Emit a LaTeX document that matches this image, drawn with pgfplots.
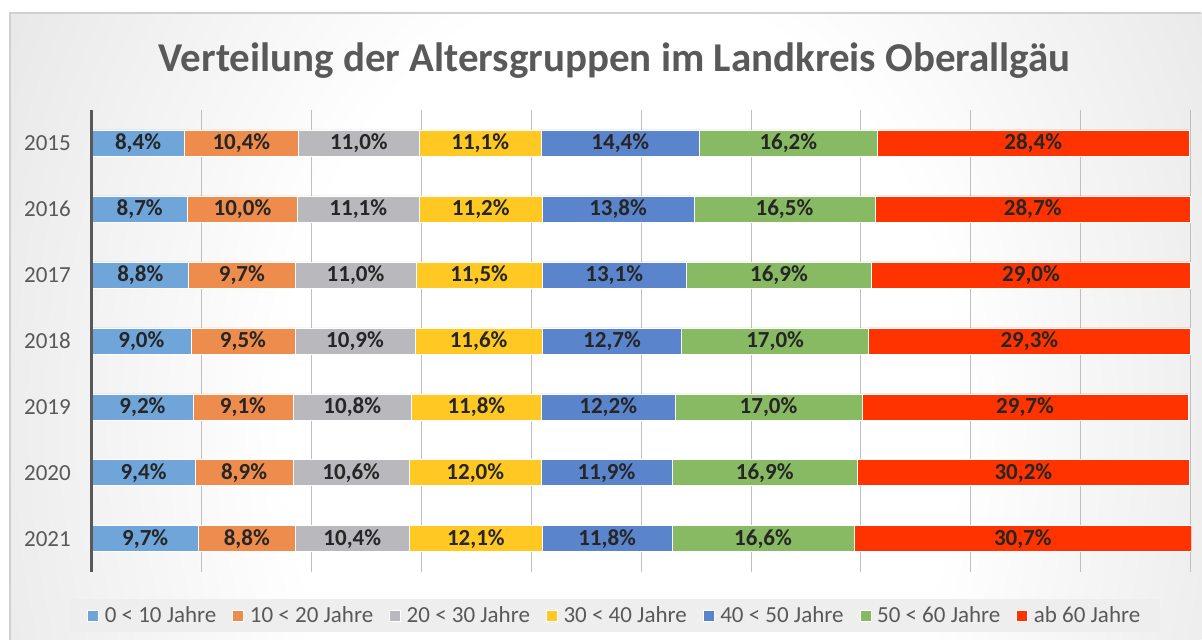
\documentclass[border=0pt]{standalone}
\usepackage{pgfplots}
\pgfplotsset{compat=1.18}
\usepackage{pgfplotstable}
\usepackage{fontspec}
\setmainfont{Carlito}
\definecolor{c1}{HTML}{6FA5D9}
\definecolor{c2}{HTML}{EE8C4D}
\definecolor{c3}{HTML}{B9B9BD}
\definecolor{c4}{HTML}{FFC822}
\definecolor{c5}{HTML}{5A84CC}
\definecolor{c6}{HTML}{87BA62}
\definecolor{c7}{HTML}{FF3300}
\definecolor{txt}{HTML}{595959}
\definecolor{lbl}{HTML}{262626}
\definecolor{gridc}{HTML}{BFBFBF}
\definecolor{frame}{HTML}{D0D0D0}
\definecolor{legfill}{HTML}{EEEEEE}
\pgfdeclareradialshading{bgshade}{\pgfpoint{0bp}{0bp}}{color(0bp)=(white); color(12bp)=(white); color(24bp)=(gray!17); color(44bp)=(gray!39); color(50bp)=(gray!46)}
\pgfplotstableread{
idx a b c d e f g
0 8.4 10.4 11.0 11.1 14.4 16.2 28.4
1 8.7 10.0 11.1 11.2 13.8 16.5 28.7
2 8.8 9.7 11.0 11.5 13.1 16.9 29.0
3 9.0 9.5 10.9 11.6 12.7 17.0 29.3
4 9.2 9.1 10.8 11.8 12.2 17.0 29.7
5 9.4 8.9 10.6 12.0 11.9 16.9 30.2
6 9.7 8.8 10.4 12.1 11.8 16.6 30.7
}\data
\begin{document}
\begin{tikzpicture}
\path (0bp,0bp) rectangle (1202bp,-640bp);
\begin{scope}
\clip (10bp,-13bp) rectangle (1202bp,-640bp);
\shade[shading=bgshade] (-80bp,480bp) rectangle (1320bp,-1320bp);
\end{scope}
\draw[frame, line width=1.2bp] (10bp,-640bp) -- (10bp,-13bp) -- (1202bp,-13bp);
\begin{axis}[
  at={(92bp,-572bp)}, anchor=south west,
  scale only axis, width=1100bp, height=462bp,
  xbar stacked, bar width=26bp,
  xmin=0, xmax=100.1, ymin=-0.5, ymax=6.5, y dir=reverse,
  xtick={0,10,...,100}, xticklabels={},
  xmajorgrids, grid style={gridc, line width=0.9bp},
  major tick length=0pt,
  ytick={0,...,6}, yticklabels={\mbox{2015},\mbox{2016},\mbox{2017},\mbox{2018},\mbox{2019},\mbox{2020},\mbox{2021}},
  yticklabel style={font=\fontsize{23bp}{27bp}\selectfont, text=txt, inner sep=0pt, xshift=-21bp},
  axis line style={draw=none},
  title={Verteilung der Altersgruppen im Landkreis Oberallgäu},
  title style={at={(axis description cs:0.4755,1.095)}, anchor=center, font=\bfseries\fontsize{41bp}{49bp}\selectfont, text=txt},
  point meta=explicit,
  nodes near coords={\pgfmathprintnumber[fixed,fixed zerofill,precision=1,use comma,assume math mode=true]{\pgfplotspointmeta}\%},
  every node near coord/.append style={anchor=center, font=\bfseries\fontsize{23bp}{27bp}\selectfont, text=lbl},
  legend image code/.code={\fill[#1] (0bp,-5.5bp) rectangle (11bp,5.5bp);},
  legend style={at={(axis description cs:0.4755,-0.0952)}, anchor=center, draw=none, fill=legfill,
    font=\fontsize{23bp}{27bp}\selectfont, text=txt, legend columns=-1,
    /tikz/every odd column/.append style={column sep=4bp},
    /tikz/every even column/.append style={column sep=14bp},
    inner xsep=18bp, inner ysep=6bp, cells={anchor=west}},
  extra description/.code={\draw[txt, line width=3bp] (rel axis cs:0,0) -- (rel axis cs:0,1);},
]
\addplot[fill=c1, draw=white, line width=0.6bp] table[x=a, y=idx, meta=a] {\data};
\addplot[fill=c2, draw=white, line width=0.6bp] table[x=b, y=idx, meta=b] {\data};
\addplot[fill=c3, draw=white, line width=0.6bp] table[x=c, y=idx, meta=c] {\data};
\addplot[fill=c4, draw=white, line width=0.6bp] table[x=d, y=idx, meta=d] {\data};
\addplot[fill=c5, draw=white, line width=0.6bp] table[x=e, y=idx, meta=e] {\data};
\addplot[fill=c6, draw=white, line width=0.6bp] table[x=f, y=idx, meta=f] {\data};
\addplot[fill=c7, draw=white, line width=0.6bp] table[x=g, y=idx, meta=g] {\data};
\legend{0 < 10 Jahre, 10 < 20 Jahre, 20 < 30 Jahre, 30 < 40 Jahre, 40 < 50 Jahre, 50 < 60 Jahre, ab 60 Jahre}
\end{axis}
\end{tikzpicture}
\end{document}
